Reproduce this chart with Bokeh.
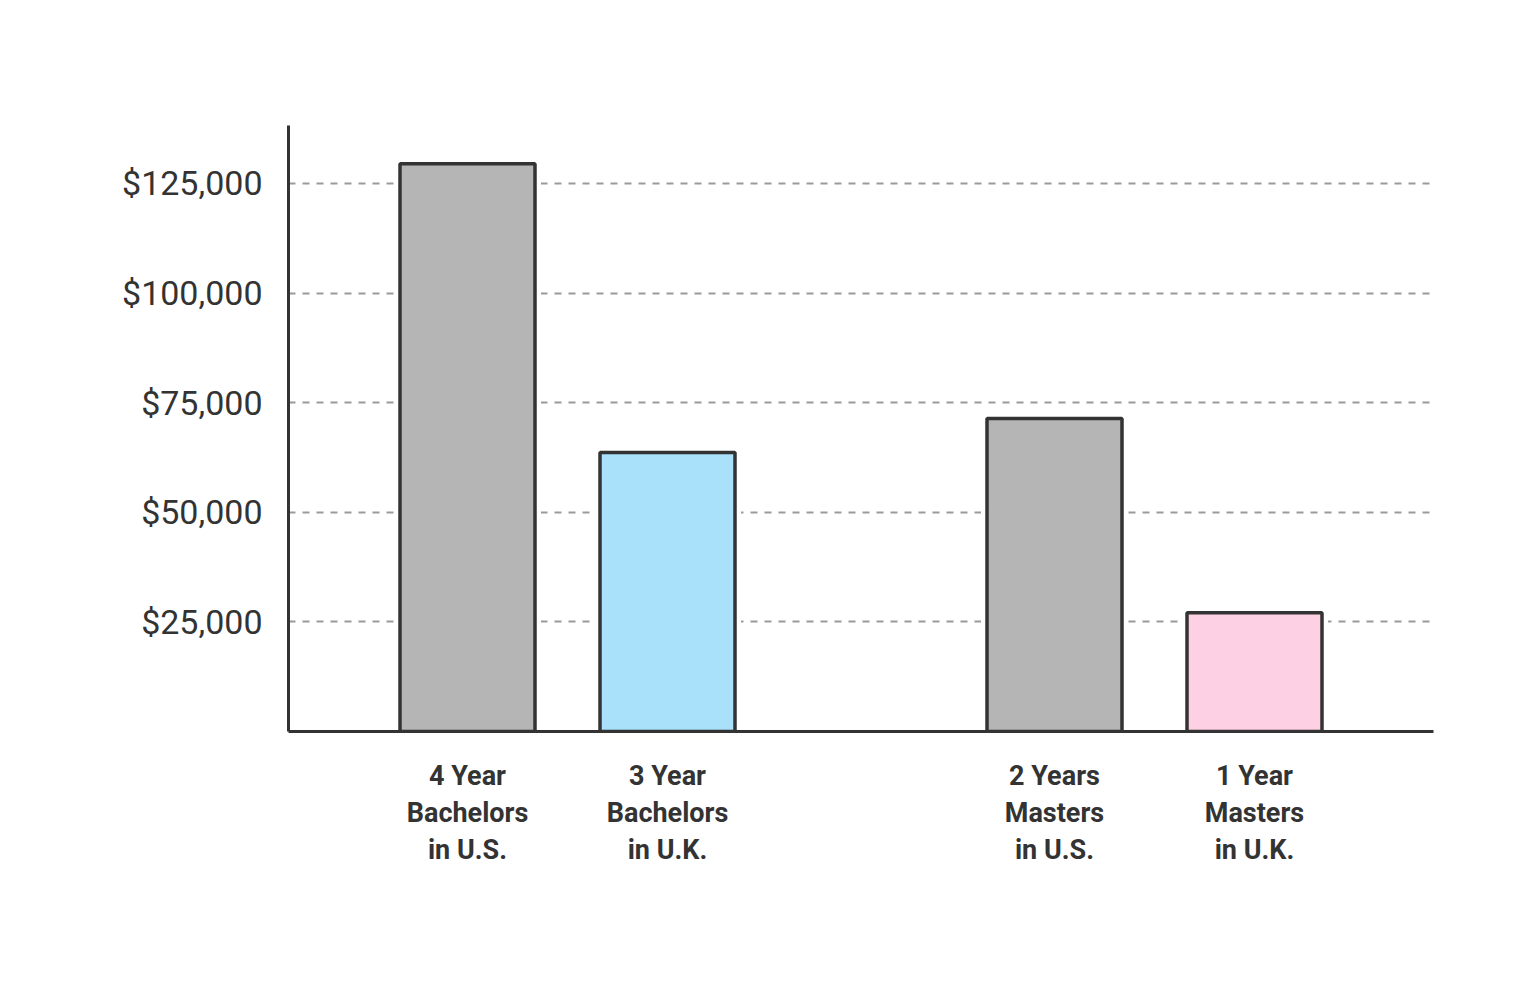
from bokeh.plotting import figure
from bokeh.models import FactorRange, Range1d, FixedTicker, NumeralTickFormatter, ColumnDataSource
from bokeh.embed import file_html
from bokeh.resources import INLINE

# ---- data ----
groups = ["Bachelors", "Bachelors", "Masters", "Masters"]
labels = ["4 Year\nBachelors\nin U.S.", "3 Year\nBachelors\nin U.K.",
          "2 Years\nMasters\nin U.S.", "1 Year\nMasters\nin U.K."]
costs = [129500, 63600, 71400, 27100]
colors = ["#b5b5b5", "#a8e1f9", "#b5b5b5", "#fdd0e4"]
y_ticks = [25000, 50000, 75000, 100000, 125000]

factors = list(zip(groups, labels))
src = ColumnDataSource(dict(x=factors, top=costs, color=colors))

x_range = FactorRange(*factors, factor_padding=0.0, group_padding=0.935,
                      range_padding=0.395, range_padding_units="absolute")

p = figure(width=1520, height=965, x_range=x_range, y_range=Range1d(0, 138200),
           output_backend="svg", toolbar_location=None,
           min_border_left=288, min_border_right=87,
           min_border_top=125, min_border_bottom=234)
p.outline_line_color = None
p.background_fill_color = "white"
p.border_fill_color = "white"

# white halo so grid dashes stop short of the bars
p.vbar(x="x", top="top", width=0.675, source=src, fill_color=None,
       line_color="white", line_width=12)
p.vbar(x="x", top="top", width=0.675, source=src, fill_color="color",
       line_color="#333333", line_width=3.5)

p.xgrid.grid_line_color = None
p.ygrid.ticker = FixedTicker(ticks=y_ticks)
p.ygrid.grid_line_color = "#9a9a9a"
p.ygrid.grid_line_width = 2
p.ygrid.grid_line_dash = "7 7"

ya = p.yaxis[0]
ya.ticker = FixedTicker(ticks=y_ticks)
ya.formatter = NumeralTickFormatter(format="$0,0")
ya.axis_line_color = "#333333"
ya.axis_line_width = 3
ya.major_tick_line_color = None
ya.minor_tick_line_color = None
ya.major_label_text_font = "Roboto"
ya.major_label_text_font_size = "34px"
ya.major_label_text_color = "#333333"
ya.major_label_standoff = 20

xa = p.xaxis[0]
xa.axis_line_color = "#333333"
xa.axis_line_width = 3
xa.major_tick_line_color = None
xa.minor_tick_line_color = None
xa.major_label_text_font = "Roboto"
xa.major_label_text_font_size = "27px"
xa.major_label_text_font_style = "bold"
xa.major_label_text_color = "#333333"
xa.major_label_text_line_height = 1.17
xa.major_label_standoff = 22
xa.group_text_color = None
xa.group_text_font_size = "0px"
xa.separator_line_color = None

open("out.html", "w").write(file_html(p, INLINE))
